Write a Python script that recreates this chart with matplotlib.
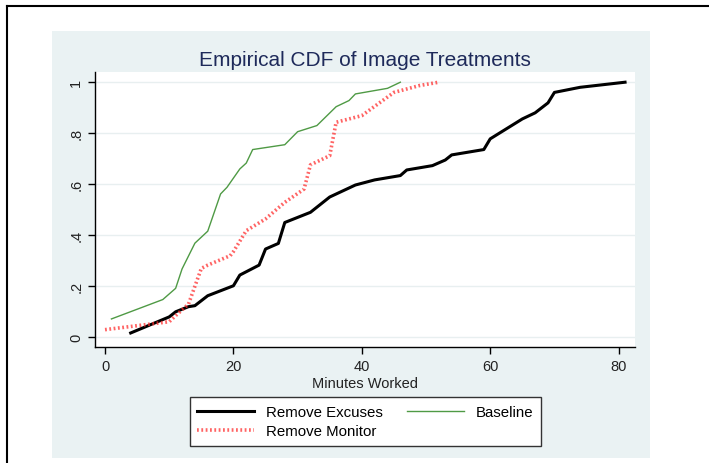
import matplotlib
matplotlib.use("Agg")
import matplotlib.pyplot as plt
from matplotlib.patches import Rectangle
from matplotlib.lines import Line2D

plt.rcParams['font.family'] = ['Liberation Sans', 'DejaVu Sans']

# Remove Excuses (minutes, cumulative share)
excuses_x = [4, 10, 11, 13, 14, 16, 20, 21, 24, 25, 27, 28, 32, 35, 39, 42, 46, 47,
             51, 53, 54, 59, 60, 65, 67, 69, 70, 74, 81]
excuses_y = [0.017, 0.08, 0.10, 0.12, 0.124, 0.163, 0.202, 0.244, 0.283, 0.346, 0.368,
             0.45, 0.49, 0.55, 0.597, 0.617, 0.634, 0.656, 0.673, 0.695, 0.715, 0.736,
             0.778, 0.856, 0.88, 0.919, 0.96, 0.98, 1.0]

# Remove Monitor
monitor_x = [0, 10, 11, 13, 15, 16, 19.5, 20, 22, 25, 28, 31, 32, 35, 36, 40, 45, 49, 52]
monitor_y = [0.03, 0.061, 0.085, 0.13, 0.27, 0.283, 0.32, 0.336, 0.418, 0.464, 0.529,
             0.581, 0.676, 0.712, 0.843, 0.869, 0.96, 0.987, 1.0]

# Baseline
baseline_x = [1, 9, 11, 12, 14, 16, 18, 19, 21, 22, 23, 28, 30, 33, 36, 38, 39, 44, 46]
baseline_y = [0.072, 0.148, 0.192, 0.268, 0.369, 0.416, 0.562, 0.588, 0.66, 0.683, 0.736,
              0.755, 0.806, 0.83, 0.904, 0.928, 0.954, 0.976, 1.0]

xticks = [0, 20, 40, 60, 80]
yticks = [0, 0.2, 0.4, 0.6, 0.8, 1.0]
ytick_labels = ["0", ".2", ".4", ".6", ".8", "1"]

W, H = 709, 464
fig = plt.figure(figsize=(W / 100, H / 100), dpi=100)
fig.patch.set_facecolor("white")

# page border lines
fig.add_artist(Line2D([7 / W, 1], [1 - 7 / H, 1 - 7 / H], color="black", lw=1.5))
fig.add_artist(Line2D([7 / W, 7 / W], [0, 1 - 7 / H], color="black", lw=1.5))

# graph region background
fig.add_artist(Rectangle((52 / W, 1 - 459 / H), 598 / W, 427 / H,
                         facecolor="#eaf2f3", edgecolor="none", zorder=0))

ax = fig.add_axes([95 / W, 1 - 348 / H, 540 / W, 275 / H])
ax.set_facecolor("white")

ax.plot(excuses_x, excuses_y, color="black", lw=2.2, label="Remove Excuses")
ax.plot(monitor_x, monitor_y, color="#ff3030", lw=2.6, linestyle=(0, (0.5, 0.7)),
        alpha=0.75, label="Remove Monitor")
ax.plot(baseline_x, baseline_y, color="#4f9a45", lw=1.0, label="Baseline")

ax.set_xlim(-1.56, 82.55)
ax.set_ylim(-0.038, 1.04)
ax.set_xticks(xticks)
ax.set_yticks(yticks)
ax.set_yticklabels(ytick_labels, rotation=90, va="center")
ax.grid(axis="y", color="#e8eff0", lw=1.0)
ax.set_axisbelow(True)

for s in ["top", "right"]:
    ax.spines[s].set_visible(False)
for s in ["left", "bottom"]:
    ax.spines[s].set_color("black")
    ax.spines[s].set_linewidth(1.0)
ax.tick_params(direction="out", length=5, width=1, labelsize=10.5, colors="black",
               labelcolor="#222222")

ax.set_xlabel("Minutes Worked", fontsize=10.5, color="#222222", labelpad=2)
ax.set_title("Empirical CDF of Image Treatments", fontsize=15, color="#1e2a5a", pad=5)

leg = fig.legend(loc="center", bbox_to_anchor=(365.5 / W, 1 - 422.5 / H), ncol=2,
                 frameon=True, fancybox=False, fontsize=10.8, handlelength=3.8,
                 columnspacing=1.6, borderpad=0.5, labelspacing=0.35, framealpha=1)
leg.get_frame().set_edgecolor("#333333")
leg.get_frame().set_linewidth(1.0)

fig.savefig("out.png", dpi=100)
